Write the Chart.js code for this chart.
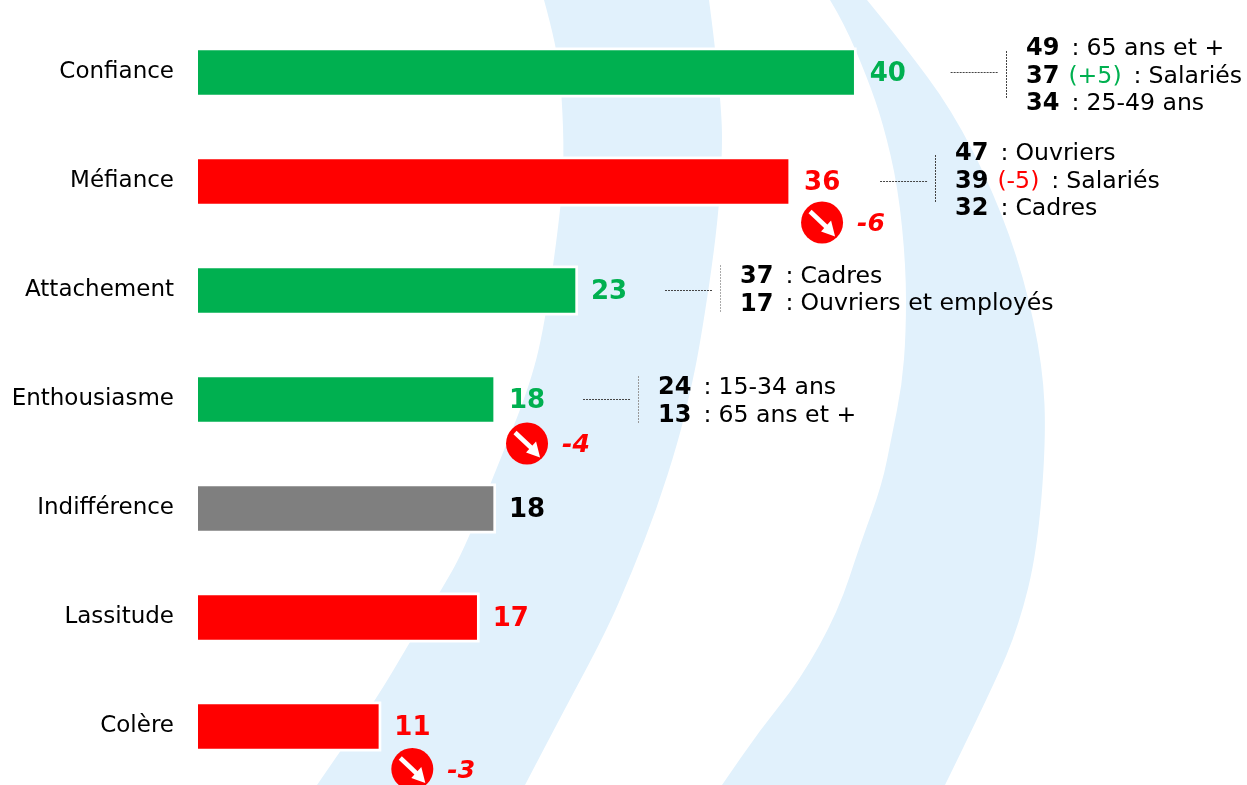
<!DOCTYPE html>
<html><head><meta charset="utf-8">
<style>html,body{margin:0;padding:0;background:#fff;overflow:hidden}#w{position:relative;width:1247px;height:785px}</style>
<script src="https://cdn.jsdelivr.net/npm/chart.js@4"></script></head>
<body><div id="w"><canvas id="c" width="1247" height="785"></canvas></div>
<script>
const categories=["Confiance","Méfiance","Attachement","Enthousiasme","Indifférence","Lassitude","Colère"];
const values=[40,36,23,18,18,17,11];
const tones=["green","red","green","green","grey","red","red"];
const deltas=[null,-6,null,-4,null,null,-3];
const details=[
 [["49","","","65 ans et +"],["37","(+5)","green","Salariés"],["34","","","25-49 ans"]],
 [["47","","","Ouvriers"],["39","(-5)","red","Salariés"],["32","","","Cadres"]],
 [["37","","","Cadres"],["17","","","Ouvriers et employés"]],
 [["24","","","15-34 ans"],["13","","","65 ans et +"]],
 [],[],[]];
const palette={green:"#00B050",red:"#FF0000",grey:"#7F7F7F"};
const labelInk={green:"#00B050",red:"#FF0000",grey:"#000000"};
const FONT='"DejaVu Sans"';
const calloutGap=[97,92,90,90,0,0,0];
const calloutDy=[2,-3,-2,0,0,0,0];
const textDy=[3,-1,-1,1.5,0,0,0];
const badgeDy=[0,41,0,44,0,0,42.5];
const vlineInk=["#444","#444","#AAA","#999"];
const bandAL=[[544,0],[557,47],[562,98],[564,157],[561,207],[546,317],[531,383],[494,475],[463,552],[440,592],[410,642],[377,698],[317,785]];
const bandAR=[[525,785],[560,718],[606,632],[632,572],[657,508],[678,442],[690,393],[699,350],[712,267],[719,207],[722,157],[722,117],[715,47],[709,0]];
const bandBL=[[830,0],[844,23],[867,77],[883,123],[898,187],[906,267],[906,333],[902,385],[892,435],[882,485],[861,542],[838,612],[800,680],[760,730],[722,785]];
const bandBR=[[945,785],[994,685],[1019,625],[1037,552],[1046,442],[1043,367],[1024,277],[994,193],[952,110],[902,43],[867,0]];
function edge(g,p){g.lineTo(p[0][0],p[0][1]);for(let i=1;i<p.length-1;i++){const mx=(p[i][0]+p[i+1][0])/2,my=(p[i][1]+p[i+1][1])/2;g.quadraticCurveTo(p[i][0],p[i][1],mx,my);}g.lineTo(p[p.length-1][0],p[p.length-1][1]);}
function band(g,a,b){g.beginPath();g.moveTo(a[0][0],a[0][1]);edge(g,a);edge(g,b);g.closePath();g.fill();}
const backdrop={id:"backdrop",beforeDraw(ch){const g=ch.ctx;g.save();g.fillStyle="#E1F1FC";band(g,bandAL,bandAR);band(g,bandBL,bandBR);g.restore();},
 beforeDatasetsDraw(ch){const g=ch.ctx;g.save();g.fillStyle="#fff";ch.getDatasetMeta(0).data.forEach(b=>{const p=b.getProps(["x","y","height"],true);
   g.fillRect(ch.chartArea.left-3,p.y-p.height/2-3,p.x-ch.chartArea.left+6,p.height+6);});g.restore();}};
const notes={id:"notes",afterDatasetsDraw(ch){const g=ch.ctx,x=ch.scales.x,y=ch.scales.y;g.save();g.textBaseline="middle";
 values.forEach((v,i)=>{const bx=x.getPixelForValue(v),cy=y.getPixelForValue(i);
  g.font='bold 26px '+FONT;g.fillStyle=labelInk[tones[i]];g.textAlign="left";g.fillText(String(v),bx+16,cy+2);
  if(deltas[i]!==null){const cx=bx+34,dy=cy+badgeDy[i];g.fillStyle="#FF0000";g.beginPath();g.arc(cx,dy,21,0,Math.PI*2);g.fill();
   g.strokeStyle="#fff";g.fillStyle="#fff";g.lineWidth=4.5;g.beginPath();g.moveTo(cx-12,dy-11);g.lineTo(cx+6,dy+6);g.stroke();
   g.beginPath();g.moveTo(cx+13,dy+14);g.lineTo(cx-1,dy+9);g.lineTo(cx+9,dy-2);g.closePath();g.fill();
   g.fillStyle="#FF0000";g.font='italic bold 25px '+FONT;g.fillText(String(deltas[i]),cx+35,dy+2);}
  const d=details[i];if(d.length){const lx=bx+calloutGap[i],vx=Math.round(lx+55),ly=Math.round(cy+calloutDy[i]);
   g.lineWidth=1;g.setLineDash([2,1]);g.strokeStyle="#444";g.beginPath();g.moveTo(lx,Math.floor(cy)+.5);g.lineTo(lx+48,Math.floor(cy)+.5);g.stroke();
   g.strokeStyle=vlineInk[i];g.beginPath();g.moveTo(vx+.5,ly-24);g.lineTo(vx+.5,ly+24);g.stroke();g.setLineDash([]);
   const tx=vx+20;d.forEach((r,k)=>{const ty=cy+1+textDy[i]+(k-(d.length-1)/2)*27.7;let c=tx;
    g.font='bold 24px '+FONT;g.fillStyle="#000";g.fillText(r[0],c,ty);c+=g.measureText(r[0]).width;
    g.font='23.6px '+FONT;if(r[1]){c+=9;g.fillStyle=palette[r[2]];g.fillText(r[1],c,ty);c+=g.measureText(r[1]).width;}
    c+=12;g.fillStyle="#000";g.fillText(":",c,ty);c+=15;g.fillText(r[3],c,ty);});}
 });g.restore();}};
new Chart(document.getElementById("c"),{type:"bar",
 data:{labels:categories,datasets:[{data:values,backgroundColor:tones.map(t=>palette[t]),borderWidth:0,barThickness:44}]},
 options:{indexAxis:"y",responsive:false,animation:false,
  layout:{padding:{top:18,bottom:4,left:0,right:0}},
  plugins:{legend:{display:false},tooltip:{enabled:false}},
  scales:{x:{min:0,max:64,display:false},
   y:{afterFit(s){s.width=198;s.paddingTop=0;s.paddingBottom=0;},border:{display:false},grid:{display:false,drawTicks:false},
      ticks:{color:"#000",padding:24,font:{family:FONT,size:23}}}}},
 plugins:[backdrop,notes]});
</script></body></html>
